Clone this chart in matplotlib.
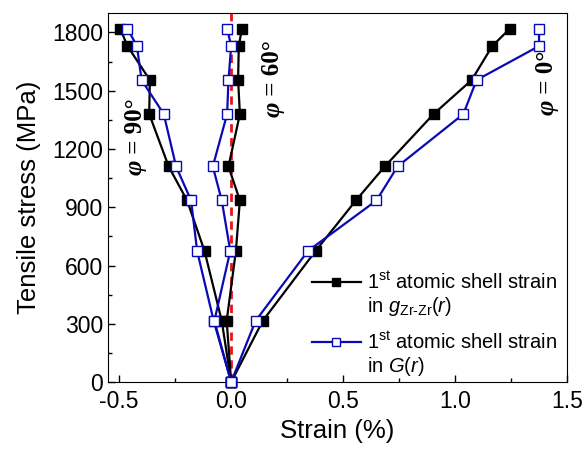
import matplotlib
matplotlib.use("Agg")
import matplotlib.pyplot as plt
from matplotlib.lines import Line2D

plt.rcParams['font.family'] = ['Liberation Sans', 'DejaVu Sans']
plt.rcParams['mathtext.fontset'] = 'custom'
plt.rcParams['mathtext.rm'] = 'Liberation Sans'
plt.rcParams['mathtext.it'] = 'Liberation Sans:italic'

stress = [0, 315, 675, 935, 1110, 1380, 1555, 1730, 1820]

g_phi90 = [0, -0.042, -0.119, -0.197, -0.279, -0.366, -0.363, -0.463, -0.496]
G_phi90 = [0, -0.078, -0.152, -0.179, -0.246, -0.301, -0.400, -0.421, -0.463]
g_phi60 = [0, -0.020, 0.021, 0.039, -0.012, 0.039, 0.031, 0.034, 0.048]
G_phi60 = [0, -0.075, -0.004, -0.042, -0.082, -0.018, -0.012, 0.000, -0.018]
g_phi0 = [0, 0.141, 0.377, 0.557, 0.686, 0.904, 1.074, 1.166, 1.245]
G_phi0 = [0, 0.109, 0.343, 0.649, 0.743, 1.037, 1.096, 1.375, 1.375]

xticks = [-0.5, 0.0, 0.5, 1.0, 1.5]
xticklabels = ['-0.5', '0.0', '0.5', '1.0', '1.5']
yticks = [0, 300, 600, 900, 1200, 1500, 1800]

angle_labels = ['90°', '60°', '0°']
angle_pos = [(-0.428, 1144), (0.185, 1443), (1.41, 1453)]

black = 'black'
blue = '#0A0AB4'

fig = plt.figure(figsize=(5.87, 4.5), dpi=100)
ax = fig.add_axes([0.184, 0.151, 0.782, 0.820])

ax.axvline(0, color='#E8141C', ls=(0, (3, 2)), lw=2, zorder=1)

kw_g = dict(color=black, marker='s', ms=7, lw=1.6, mfc=black, mec=black, clip_on=False, zorder=3)
kw_G = dict(color=blue, marker='s', ms=7, lw=1.6, mfc='white', mec=blue, mew=1.0, clip_on=False, zorder=4)

lg, = ax.plot(g_phi90, stress, **kw_g)
ax.plot(g_phi60, stress, **kw_g)
ax.plot(g_phi0, stress, **kw_g)
lG, = ax.plot(G_phi90, stress, **kw_G)
ax.plot(G_phi60, stress, **kw_G)
ax.plot(G_phi0, stress, **kw_G)

ax.set_xlim(-0.55, 1.5)
ax.set_ylim(0, 1900)
ax.set_xticks(xticks)
ax.set_xticklabels(xticklabels)
ax.set_yticks(yticks)
ax.set_xticks([-0.25, 0.25, 0.75, 1.25], minor=True)
ax.set_yticks([150, 450, 750, 1050, 1350, 1650], minor=True)
ax.tick_params(which='both', direction='in', top=False, right=False, labelsize=16.5)
ax.tick_params(which='major', length=5, width=1)
ax.tick_params(which='minor', length=3, width=1)
ax.tick_params(axis='x', pad=6)

ax.set_xlabel('Strain (%)', fontsize=18.5, labelpad=4)
ax.set_ylabel('Tensile stress (MPa)', fontsize=18.5, labelpad=8)

for lab, (px, py) in zip(angle_labels, angle_pos):
    ax.text(px, py, '\u03c6', fontsize=19, fontweight='bold', fontstyle='italic',
            family='Liberation Serif', rotation=90, ha='center', va='top')
    ax.text(px, py, ' = ' + lab, fontsize=18, fontweight='bold',
            family='Liberation Serif', rotation=90, ha='center', va='bottom')

blank = Line2D([], [], color='none')
leg_kw = dict(loc='upper left', frameon=False, fontsize=14.5, handlelength=2.45,
              handletextpad=0.3, labelspacing=0.12, borderpad=0, borderaxespad=0,
              markerscale=0.8)
leg1 = ax.legend([lg, blank],
                 ['1$^{\\mathrm{st}}$ atomic shell strain',
                  'in $g_{\\mathrm{Zr\u2010Zr}}(r)$'],
                 bbox_to_anchor=(0.444, 0.30), **leg_kw)
ax.add_artist(leg1)
ax.legend([lG, blank],
          ['1$^{\\mathrm{st}}$ atomic shell strain', 'in $G(r)$'],
          bbox_to_anchor=(0.444, 0.137), **leg_kw)

fig.savefig('out.png', dpi=100)
